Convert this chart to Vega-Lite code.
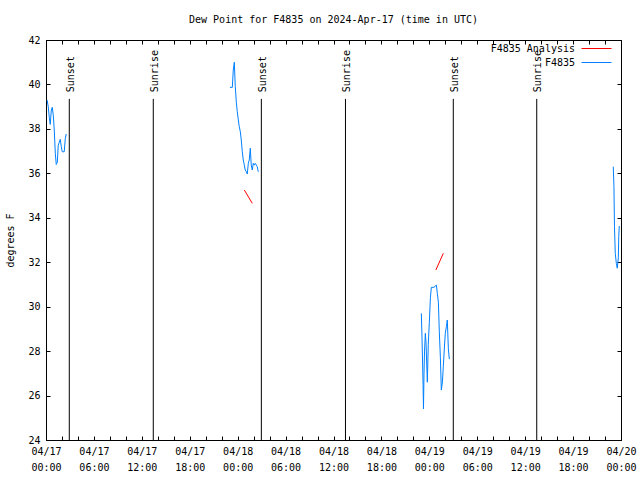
{
  "$schema": "https://vega.github.io/schema/vega-lite/v6.json",
  "width": 575,
  "height": 400,
  "autosize": {"type": "none"},
  "padding": {"left": 46, "top": 40, "right": 19, "bottom": 40},
  "title": {"text": "Dew Point for F4835 on 2024-Apr-17 (time in UTC)", "fontSize": 10, "fontWeight": "normal", "font": "DejaVu Sans Mono", "offset": 10, "anchor": "middle", "color": "black"},
  "datasets": {
    "obs": [
      {"t": "2024-04-17T00:08:00Z", "v": 39.3, "series": "F4835", "seg": 1},
      {"t": "2024-04-17T00:17:00Z", "v": 39.0, "series": "F4835", "seg": 1},
      {"t": "2024-04-17T00:25:00Z", "v": 38.5, "series": "F4835", "seg": 1},
      {"t": "2024-04-17T00:32:00Z", "v": 38.2, "series": "F4835", "seg": 1},
      {"t": "2024-04-17T00:40:00Z", "v": 38.85, "series": "F4835", "seg": 1},
      {"t": "2024-04-17T00:47:00Z", "v": 38.97, "series": "F4835", "seg": 1},
      {"t": "2024-04-17T00:55:00Z", "v": 38.6, "series": "F4835", "seg": 1},
      {"t": "2024-04-17T01:02:00Z", "v": 37.95, "series": "F4835", "seg": 1},
      {"t": "2024-04-17T01:10:00Z", "v": 36.9, "series": "F4835", "seg": 1},
      {"t": "2024-04-17T01:17:00Z", "v": 36.4, "series": "F4835", "seg": 1},
      {"t": "2024-04-17T01:25:00Z", "v": 36.5, "series": "F4835", "seg": 1},
      {"t": "2024-04-17T01:32:00Z", "v": 37.27, "series": "F4835", "seg": 1},
      {"t": "2024-04-17T01:40:00Z", "v": 37.4, "series": "F4835", "seg": 1},
      {"t": "2024-04-17T01:47:00Z", "v": 37.53, "series": "F4835", "seg": 1},
      {"t": "2024-04-17T01:55:00Z", "v": 37.2, "series": "F4835", "seg": 1},
      {"t": "2024-04-17T02:02:00Z", "v": 36.97, "series": "F4835", "seg": 1},
      {"t": "2024-04-17T02:17:00Z", "v": 36.97, "series": "F4835", "seg": 1},
      {"t": "2024-04-17T02:25:00Z", "v": 37.57, "series": "F4835", "seg": 1},
      {"t": "2024-04-17T02:32:00Z", "v": 37.77, "series": "F4835", "seg": 1},

      {"t": "2024-04-17T23:02:00Z", "v": 39.87, "series": "F4835", "seg": 2},
      {"t": "2024-04-17T23:20:00Z", "v": 39.87, "series": "F4835", "seg": 2},
      {"t": "2024-04-17T23:27:00Z", "v": 40.65, "series": "F4835", "seg": 2},
      {"t": "2024-04-17T23:35:00Z", "v": 41.0, "series": "F4835", "seg": 2},
      {"t": "2024-04-17T23:42:00Z", "v": 39.9, "series": "F4835", "seg": 2},
      {"t": "2024-04-17T23:50:00Z", "v": 39.2, "series": "F4835", "seg": 2},
      {"t": "2024-04-17T23:57:00Z", "v": 38.77, "series": "F4835", "seg": 2},
      {"t": "2024-04-18T00:05:00Z", "v": 38.4, "series": "F4835", "seg": 2},
      {"t": "2024-04-18T00:12:00Z", "v": 38.1, "series": "F4835", "seg": 2},
      {"t": "2024-04-18T00:20:00Z", "v": 37.87, "series": "F4835", "seg": 2},
      {"t": "2024-04-18T00:27:00Z", "v": 37.5, "series": "F4835", "seg": 2},
      {"t": "2024-04-18T00:35:00Z", "v": 36.97, "series": "F4835", "seg": 2},
      {"t": "2024-04-18T00:42:00Z", "v": 36.6, "series": "F4835", "seg": 2},
      {"t": "2024-04-18T00:50:00Z", "v": 36.37, "series": "F4835", "seg": 2},
      {"t": "2024-04-18T00:57:00Z", "v": 36.15, "series": "F4835", "seg": 2},
      {"t": "2024-04-18T01:05:00Z", "v": 36.07, "series": "F4835", "seg": 2},
      {"t": "2024-04-18T01:12:00Z", "v": 35.97, "series": "F4835", "seg": 2},
      {"t": "2024-04-18T01:20:00Z", "v": 36.45, "series": "F4835", "seg": 2},
      {"t": "2024-04-18T01:27:00Z", "v": 36.6, "series": "F4835", "seg": 2},
      {"t": "2024-04-18T01:35:00Z", "v": 37.13, "series": "F4835", "seg": 2},
      {"t": "2024-04-18T01:42:00Z", "v": 36.37, "series": "F4835", "seg": 2},
      {"t": "2024-04-18T01:50:00Z", "v": 36.15, "series": "F4835", "seg": 2},
      {"t": "2024-04-18T01:57:00Z", "v": 36.45, "series": "F4835", "seg": 2},
      {"t": "2024-04-18T02:05:00Z", "v": 36.37, "series": "F4835", "seg": 2},
      {"t": "2024-04-18T02:12:00Z", "v": 36.45, "series": "F4835", "seg": 2},
      {"t": "2024-04-18T02:20:00Z", "v": 36.37, "series": "F4835", "seg": 2},
      {"t": "2024-04-18T02:27:00Z", "v": 36.3, "series": "F4835", "seg": 2},
      {"t": "2024-04-18T02:35:00Z", "v": 36.07, "series": "F4835", "seg": 2},

      {"t": "2024-04-18T23:00:00Z", "v": 29.7, "series": "F4835", "seg": 3},
      {"t": "2024-04-18T23:05:00Z", "v": 28.6, "series": "F4835", "seg": 3},
      {"t": "2024-04-18T23:13:00Z", "v": 26.5, "series": "F4835", "seg": 3},
      {"t": "2024-04-18T23:16:00Z", "v": 25.4, "series": "F4835", "seg": 3},
      {"t": "2024-04-18T23:20:00Z", "v": 27.0, "series": "F4835", "seg": 3},
      {"t": "2024-04-18T23:24:00Z", "v": 28.0, "series": "F4835", "seg": 3},
      {"t": "2024-04-18T23:30:00Z", "v": 28.8, "series": "F4835", "seg": 3},
      {"t": "2024-04-18T23:35:00Z", "v": 28.4, "series": "F4835", "seg": 3},
      {"t": "2024-04-18T23:45:00Z", "v": 26.6, "series": "F4835", "seg": 3},
      {"t": "2024-04-18T23:52:00Z", "v": 28.3, "series": "F4835", "seg": 3},
      {"t": "2024-04-19T00:00:00Z", "v": 29.3, "series": "F4835", "seg": 3},
      {"t": "2024-04-19T00:08:00Z", "v": 30.4, "series": "F4835", "seg": 3},
      {"t": "2024-04-19T00:15:00Z", "v": 30.87, "series": "F4835", "seg": 3},
      {"t": "2024-04-19T00:35:00Z", "v": 30.87, "series": "F4835", "seg": 3},
      {"t": "2024-04-19T00:53:00Z", "v": 30.97, "series": "F4835", "seg": 3},
      {"t": "2024-04-19T01:00:00Z", "v": 30.6, "series": "F4835", "seg": 3},
      {"t": "2024-04-19T01:08:00Z", "v": 30.2, "series": "F4835", "seg": 3},
      {"t": "2024-04-19T01:15:00Z", "v": 28.87, "series": "F4835", "seg": 3},
      {"t": "2024-04-19T01:23:00Z", "v": 27.7, "series": "F4835", "seg": 3},
      {"t": "2024-04-19T01:30:00Z", "v": 26.25, "series": "F4835", "seg": 3},
      {"t": "2024-04-19T01:38:00Z", "v": 26.6, "series": "F4835", "seg": 3},
      {"t": "2024-04-19T01:45:00Z", "v": 27.3, "series": "F4835", "seg": 3},
      {"t": "2024-04-19T01:53:00Z", "v": 28.14, "series": "F4835", "seg": 3},
      {"t": "2024-04-19T02:00:00Z", "v": 28.8, "series": "F4835", "seg": 3},
      {"t": "2024-04-19T02:08:00Z", "v": 29.1, "series": "F4835", "seg": 3},
      {"t": "2024-04-19T02:15:00Z", "v": 29.4, "series": "F4835", "seg": 3},
      {"t": "2024-04-19T02:23:00Z", "v": 28.1, "series": "F4835", "seg": 3},
      {"t": "2024-04-19T02:30:00Z", "v": 27.64, "series": "F4835", "seg": 3},

      {"t": "2024-04-19T23:02:00Z", "v": 36.3, "series": "F4835", "seg": 4},
      {"t": "2024-04-19T23:07:00Z", "v": 35.4, "series": "F4835", "seg": 4},
      {"t": "2024-04-19T23:11:00Z", "v": 33.6, "series": "F4835", "seg": 4},
      {"t": "2024-04-19T23:17:00Z", "v": 32.4, "series": "F4835", "seg": 4},
      {"t": "2024-04-19T23:25:00Z", "v": 31.95, "series": "F4835", "seg": 4},
      {"t": "2024-04-19T23:32:00Z", "v": 31.73, "series": "F4835", "seg": 4},
      {"t": "2024-04-19T23:40:00Z", "v": 32.2, "series": "F4835", "seg": 4},
      {"t": "2024-04-19T23:43:00Z", "v": 33.15, "series": "F4835", "seg": 4},
      {"t": "2024-04-19T23:47:00Z", "v": 33.63, "series": "F4835", "seg": 4},

      {"t": "2024-04-18T00:50:00Z", "v": 35.25, "series": "F4835 Analysis", "seg": 5},
      {"t": "2024-04-18T01:50:00Z", "v": 34.65, "series": "F4835 Analysis", "seg": 5},
      {"t": "2024-04-19T00:49:00Z", "v": 31.65, "series": "F4835 Analysis", "seg": 6},
      {"t": "2024-04-19T01:45:00Z", "v": 32.4, "series": "F4835 Analysis", "seg": 6}
    ],
    "sun": [
      {"t": "2024-04-17T02:55:00Z", "label": "Sunset"},
      {"t": "2024-04-17T13:26:00Z", "label": "Sunrise"},
      {"t": "2024-04-18T02:58:00Z", "label": "Sunset"},
      {"t": "2024-04-18T13:30:00Z", "label": "Sunrise"},
      {"t": "2024-04-19T03:00:00Z", "label": "Sunset"},
      {"t": "2024-04-19T13:27:00Z", "label": "Sunrise"}
    ]
  },
  "layer": [
    {
      "data": {"name": "obs"},
      "mark": {"type": "line", "strokeWidth": 1},
      "encoding": {
        "x": {
          "field": "t", "type": "temporal",
          "scale": {"type": "utc", "domain": [1713312000000, 1713571200000]},
          "axis": {
            "orient": "bottom", "title": null, "grid": false, "tickCount": 200,
            "values": [1713312000000, 1713319200000, 1713326400000, 1713333600000, 1713340800000, 1713348000000, 1713355200000, 1713362400000, 1713369600000, 1713376800000, 1713384000000, 1713391200000, 1713398400000, 1713405600000, 1713412800000, 1713420000000, 1713427200000, 1713434400000, 1713441600000, 1713448800000, 1713456000000, 1713463200000, 1713470400000, 1713477600000, 1713484800000, 1713492000000, 1713499200000, 1713506400000, 1713513600000, 1713520800000, 1713528000000, 1713535200000, 1713542400000, 1713549600000, 1713556800000, 1713564000000, 1713571200000],
            "tickSize": -4, "tickColor": "black", "domainColor": "black",
            "labelExpr": "utchours(datum.value) % 6 == 0 ? [utcFormat(datum.value, '%m/%d'), utcFormat(datum.value, '%H:%M')] : ''",
            "labelOverlap": false, "labelFlush": false, "labelBound": false,
            "labelFont": "DejaVu Sans Mono", "labelFontSize": 10, "labelLineHeight": 16,
            "labelColor": "black", "labelBaseline": "top", "labelPadding": 10
          }
        },
        "y": {
          "field": "v", "type": "quantitative",
          "scale": {"domain": [24, 42], "nice": false, "zero": false},
          "axis": {
            "orient": "left", "title": "degrees F", "grid": false, "tickCount": 50, "format": "d",
            "values": [24, 26, 28, 30, 32, 34, 36, 38, 40, 42],
            "tickSize": -4, "tickColor": "black", "domainColor": "black",
            "labelFont": "DejaVu Sans Mono", "labelFontSize": 10, "labelColor": "black",
            "labelPadding": 10,
            "titleFont": "DejaVu Sans Mono", "titleFontSize": 10, "titleFontWeight": "normal", "titleColor": "black",
            "titlePadding": 12
          }
        },
        "color": {
          "field": "series", "type": "nominal",
          "scale": {"domain": ["F4835 Analysis", "F4835"], "range": ["#ff0000", "#0080ff"]},
          "legend": {
            "title": null, "orient": "none", "legendX": 535, "legendY": 3,
            "symbolType": "M-1,0H5", "symbolSize": 100, "symbolStrokeWidth": 1,
            "labelFont": "DejaVu Sans Mono", "labelFontSize": 10, "labelColor": "black",
            "labelAlign": "right", "labelOffset": -17,
            "rowPadding": 3, "padding": 0
          }
        },
        "detail": {"field": "seg", "type": "nominal"}
      }
    },
    {
      "data": {"name": "sun"},
      "mark": {"type": "rule", "color": "black", "strokeWidth": 1},
      "encoding": {
        "x": {
          "field": "t", "type": "temporal",
          "axis": {
            "orient": "top", "title": null, "labels": false, "grid": false, "tickCount": 200,
            "values": [1713312000000, 1713319200000, 1713326400000, 1713333600000, 1713340800000, 1713348000000, 1713355200000, 1713362400000, 1713369600000, 1713376800000, 1713384000000, 1713391200000, 1713398400000, 1713405600000, 1713412800000, 1713420000000, 1713427200000, 1713434400000, 1713441600000, 1713448800000, 1713456000000, 1713463200000, 1713470400000, 1713477600000, 1713484800000, 1713492000000, 1713499200000, 1713506400000, 1713513600000, 1713520800000, 1713528000000, 1713535200000, 1713542400000, 1713549600000, 1713556800000, 1713564000000, 1713571200000],
            "tickSize": -4, "tickColor": "black", "domainColor": "black"
          }
        },
        "y": {
          "datum": 24, "type": "quantitative",
          "axis": {
            "orient": "right", "title": null, "labels": false, "grid": false, "tickCount": 50,
            "values": [24, 26, 28, 30, 32, 34, 36, 38, 40, 42],
            "tickSize": -4, "tickColor": "black", "domainColor": "black"
          }
        },
        "y2": {"datum": 39.35}
      }
    },
    {
      "data": {"name": "sun"},
      "mark": {"type": "text", "angle": 270, "align": "left", "baseline": "middle", "dy": 1.5, "font": "DejaVu Sans Mono", "fontSize": 10, "color": "black"},
      "encoding": {
        "x": {"field": "t", "type": "temporal", "axis": null},
        "y": {"datum": 39.65, "type": "quantitative", "axis": null},
        "text": {"field": "label", "type": "nominal"}
      }
    }
  ],
  "resolve": {"axis": {"x": "independent", "y": "independent"}},
  "config": {
    "font": "DejaVu Sans Mono",
    "view": {"stroke": "black", "strokeWidth": 1},
    "axis": {"grid": false}
  }
}
